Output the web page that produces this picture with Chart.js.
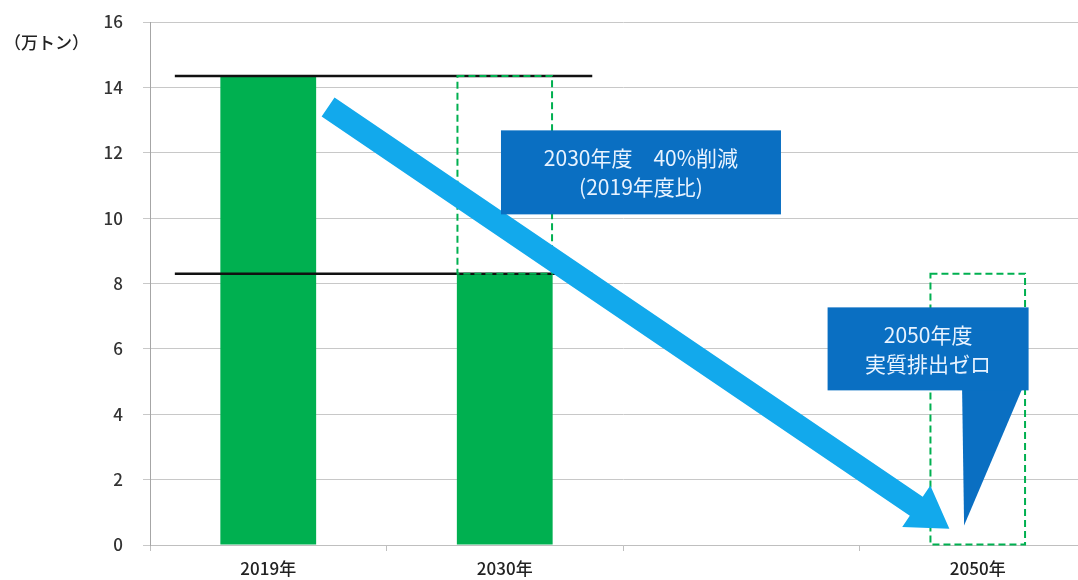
<!DOCTYPE html>
<html lang="ja">
<head>
<meta charset="utf-8">
<script src="https://cdn.jsdelivr.net/npm/chart.js@4.4.1/dist/chart.umd.min.js"></script>
<style>
    html, body { margin: 0; padding: 0; background: #fff; overflow: hidden; }
    #wrap { width: 1078px; height: 580px; overflow: hidden; }
</style>
</head>
<body>
<div id="wrap"><canvas id="co2Chart" width="1104" height="580"></canvas></div>
<script>
// Data
const categories = ['2019年', '2030年', '', '2050年'];
const emissions = [14.35, 8.3, null, null];          // green bars (万トン)
const targetBoxes = [null, [8.3, 14.35], null, [0, 8.3]]; // dashed outlines
const refLevels = [14.35, 8.3];                        // black reference lines
const yTicks = { min: 0, max: 16, step: 2 };
const unitLabel = '（万トン）';
const callout2030 = ['2030年度　40%削減', '(2019年度比)'];
const callout2050 = ['2050年度', '実質排出ゼロ'];

const FONT = '"Noto Sans CJK JP", "Noto Sans", sans-serif';

// Draws lines, dashed boxes, arrow and callouts using the chart scales
const decorPlugin = {
    id: 'decor',
    afterDatasetsDraw(chart) {
        const { ctx, scales: { x, y } } = chart;
        const slot = x.getPixelForValue(1) - x.getPixelForValue(0);
        const px = i => x.getPixelForValue(0) + i * slot;

        ctx.save();

        // black reference lines
        ctx.strokeStyle = '#111';
        ctx.lineWidth = 2.5;
        refLevels.forEach(v => {
            ctx.beginPath();
            ctx.moveTo(px(-0.395), y.getPixelForValue(v));
            ctx.lineTo(px(1.37), y.getPixelForValue(v));
            ctx.stroke();
        });

        // dashed target outlines
        const meta = chart.getDatasetMeta(1);
        ctx.strokeStyle = '#00b050';
        ctx.lineWidth = 2;
        ctx.setLineDash([7, 4]);
        meta.data.forEach((bar, i) => {
            if (!targetBoxes[i]) return;
            const p = bar.getProps(['x', 'y', 'base', 'width'], true);
            ctx.strokeRect(p.x - p.width / 2, p.y, p.width, p.base - p.y);
        });
        ctx.setLineDash([]);

        // big trend arrow
        const x0 = px(0.253), y0 = y.getPixelForValue(13.4);
        const x1 = px(2.88), y1 = y.getPixelForValue(0.5);
        const ang = Math.atan2(y1 - y0, x1 - x0);
        const len = Math.hypot(x1 - x0, y1 - y0);
        const shaft = 23, headW = 50, headL = 40;
        ctx.translate(x0, y0);
        ctx.rotate(ang);
        ctx.fillStyle = '#12a9ec';
        ctx.beginPath();
        ctx.moveTo(0, -shaft / 2);
        ctx.lineTo(len - headL, -shaft / 2);
        ctx.lineTo(len - headL, -headW / 2);
        ctx.lineTo(len, 0);
        ctx.lineTo(len - headL, headW / 2);
        ctx.lineTo(len - headL, shaft / 2);
        ctx.lineTo(0, shaft / 2);
        ctx.closePath();
        ctx.fill();
        ctx.setTransform(1, 0, 0, 1, 0, 0);
        ctx.scale(chart.currentDevicePixelRatio, chart.currentDevicePixelRatio);

        // callouts
        const drawBox = (cx, cy, w, h, lines) => {
            ctx.fillStyle = '#0a6fc2';
            ctx.fillRect(cx - w / 2, cy - h / 2, w, h);
            ctx.fillStyle = '#e8f3ff';
            ctx.font = '21px ' + FONT;
            ctx.textAlign = 'center';
            ctx.textBaseline = 'middle';
            ctx.fillText(lines[0], cx, cy - 14);
            ctx.fillText(lines[1], cx, cy + 15);
        };
        drawBox(px(1.576), y.getPixelForValue(11.4), 280, 84, callout2030);

        const c2x = px(2.79), c2y = y.getPixelForValue(6.0);
        ctx.fillStyle = '#0a6fc2';
        ctx.beginPath();
        ctx.moveTo(c2x + 34, c2y + 40);
        ctx.lineTo(c2x + 94, c2y + 40);
        ctx.lineTo(c2x + 36, y.getPixelForValue(0.6));
        ctx.closePath();
        ctx.fill();
        drawBox(c2x, c2y, 201, 83, callout2050);

        // unit label
        ctx.fillStyle = '#222';
        ctx.font = '500 17px ' + FONT;
        ctx.textAlign = 'left';
        ctx.fillText(unitLabel, 4, 43);

        ctx.restore();
    }
};

new Chart(document.getElementById('co2Chart'), {
    type: 'bar',
    data: {
        labels: categories,
        datasets: [{
            data: emissions,
            backgroundColor: '#00b050',
            grouped: false,
            barPercentage: 0.405,
            categoryPercentage: 1
        }, {
            data: targetBoxes,
            backgroundColor: 'rgba(0,0,0,0)',
            borderWidth: 0,
            grouped: false,
            barPercentage: 0.4,
            categoryPercentage: 1
        }]
    },
    options: {
        responsive: false,
        animation: false,
        layout: { padding: { top: 22, right: 8, left: 0, bottom: 0 } },
        plugins: { legend: { display: false }, tooltip: { enabled: false } },
        scales: {
            x: {
                afterFit: s => { s.height = 35; },
                grid: { drawOnChartArea: false, drawTicks: true, tickLength: 6, color: '#bfbfbf', offset: true },
                border: { color: '#bfbfbf' },
                ticks: { color: '#222', padding: 7, font: { family: FONT, size: 17, weight: '500' } }
            },
            y: {
                min: yTicks.min,
                max: yTicks.max,
                afterFit: s => { s.width = 150; s.paddingTop = 0; s.paddingBottom = 0; },
                grid: { color: '#c8c8c8', tickLength: 7 },
                border: { color: '#a6a6a6' },
                ticks: { stepSize: yTicks.step, color: '#333', padding: 20, font: { family: FONT, size: 17, weight: '500' } }
            }
        }
    },
    plugins: [decorPlugin]
});
</script>
</body>
</html>
